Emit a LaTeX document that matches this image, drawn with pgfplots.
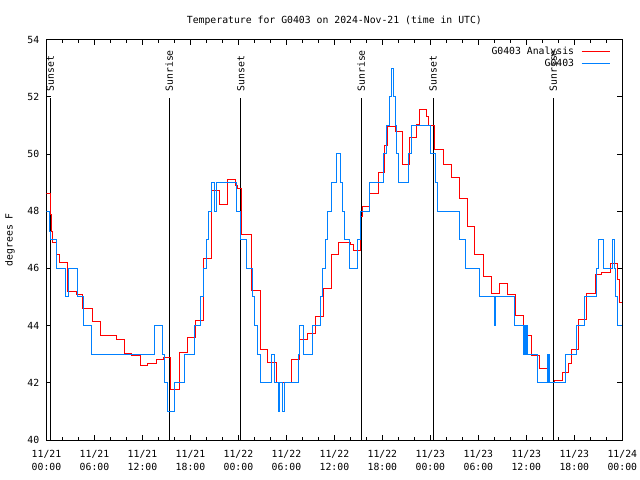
\documentclass[border=0pt]{standalone}
\usepackage{fontspec}
\setmainfont{DejaVu Sans Mono}
\usepackage{pgfplots}
\pgfplotsset{compat=1.18}
\definecolor{anared}{RGB}{255,0,0}
\definecolor{obsblue}{RGB}{0,128,255}
\begin{document}
\begin{tikzpicture}
\useasboundingbox (0,0) rectangle (640bp,480bp);
\begin{axis}[
  at={(46.5bp,40bp)}, anchor=south west,
  scale only axis, width=575.8bp, height=400.4bp,
  xmin=0, xmax=72, ymin=40, ymax=54,
  font=\fontsize{9.8bp}{11bp}\selectfont,
  /pgf/number format/assume math mode=true,
  axis line style={line width=0.8bp},
  every tick/.style={black, line width=0.6bp},
  major tick length=5bp, minor tick length=3bp,
  tick align=inside,
  xtick={0,6,...,72},
  xticklabels={{11/21\\00:00},{11/21\\06:00},{11/21\\12:00},{11/21\\18:00},{11/22\\00:00},{11/22\\06:00},{11/22\\12:00},{11/22\\18:00},{11/23\\00:00},{11/23\\06:00},{11/23\\12:00},{11/23\\18:00},{11/24\\00:00}},
  xticklabel style={align=center, inner sep=0pt, yshift=-10bp, font=\fontsize{9.8bp}{13bp}\selectfont},
  minor x tick num=2,
  ytick={40,42,...,54},
  yticklabel style={inner sep=0pt, xshift=-7bp},
  title={Temperature for G0403 on 2024-Nov-21 (time in UTC)},
  title style={at={(axis description cs:0.5,1)}, anchor=center, yshift=13bp, inner sep=0pt},
  ylabel={degrees F},
  ylabel style={at={(axis description cs:-0.0634,0.5)}, anchor=center, rotate=0, inner sep=0pt},
  legend plot pos=right,
  legend cell align=right,
  legend image code/.code={\draw[#1] (0bp,0bp) -- (28bp,0bp);},
  legend style={at={(1,1)}, anchor=north east, xshift=-12bp, yshift=-6bp, draw=none, fill=none,
    inner sep=0pt, row sep=1.5bp, nodes={inner sep=1bp},
    /tikz/every odd column/.style={column sep=6bp}},
]
% sunrise / sunset markers
\addplot[black, line width=0.8bp, forget plot] coordinates {(0.48,40) (0.48,51.95)};
\addplot[black, line width=0.8bp, forget plot] coordinates {(15.35,40) (15.35,51.95)};
\addplot[black, line width=0.8bp, forget plot] coordinates {(24.3,40) (24.3,51.95)};
\addplot[black, line width=0.8bp, forget plot] coordinates {(39.35,40) (39.35,51.95)};
\addplot[black, line width=0.8bp, forget plot] coordinates {(48.35,40) (48.35,51.95)};
\addplot[black, line width=0.8bp, forget plot] coordinates {(63.35,40) (63.35,51.95)};
\node[rotate=90, anchor=west, inner sep=0pt] at (axis cs:0.48,52.18) {Sunset};
\node[rotate=90, anchor=west, inner sep=0pt] at (axis cs:15.35,52.18) {Sunrise};
\node[rotate=90, anchor=west, inner sep=0pt] at (axis cs:24.3,52.18) {Sunset};
\node[rotate=90, anchor=west, inner sep=0pt] at (axis cs:39.35,52.18) {Sunrise};
\node[rotate=90, anchor=west, inner sep=0pt] at (axis cs:48.35,52.18) {Sunset};
\node[rotate=90, anchor=west, inner sep=0pt] at (axis cs:63.35,52.18) {Sunrise};
% analysis
\addplot[const plot, anared, line width=1bp] table {
0 48.63
0.45 47.9
0.6 47.3
0.75 46.91
1.3 46.5
1.6 46.21
2.65 45.19
3.75 45.08
4.55 44.6
5.8 44.16
6.7 43.67
8.7 43.5
9.7 43.03
10.6 42.95
11.7 42.62
12.65 42.68
13.7 42.83
14.6 42.9
15.5 41.77
16.6 43.05
17.6 43.57
18.6 44.19
19.6 46.35
20.65 48.72
21.6 48.22
22.65 49.11
23.6 48.9
23.9 48.8
24.35 47.2
25.65 45.24
26.7 43.18
27.65 42.72
28.7 42.0
30.65 42.83
31.6 43.5
32.6 43.73
33.6 44.31
34.6 45.3
35.65 46.47
36.5 46.91
38.0 46.85
38.4 46.64
39.3 47.8
39.5 48.16
40.4 48.63
41.5 49.35
42.3 50.3
42.65 50.95
43.7 50.78
44.5 49.64
45.4 50.57
46.3 51.04
46.6 51.56
47.5 51.3
47.8 51.0
48.5 50.14
49.6 49.64
50.6 49.18
51.65 48.45
52.6 47.46
53.5 46.5
54.6 45.71
55.6 45.13
56.6 45.48
57.6 45.07
58.6 44.37
59.6 44.0
59.85 43.64
60.6 42.97
61.65 42.5
62.6 42.0
63.5 42.07
64.5 42.37
65.3 42.68
65.6 43.17
66.5 44.2
67.5 45.13
68.7 45.77
69.4 45.85
70.5 46.18
71.45 45.6
71.65 44.8
72 44.8
};
\addlegendentry{G0403 Analysis}
% observed
\addplot[const plot, obsblue, line width=1bp] table {
0 48
0.35 47.3
0.5 47
1.25 46
2.35 45
2.75 46
3.85 45
4.6 44
5.6 43
13.45 44
14.45 43
14.75 42
15.1 41
15.95 42
17.2 43
18.5 44
19.3 45
19.65 46
19.95 47
20.25 48
20.6 49
20.95 48
21.3 49
23.75 48
24.2 47
25.05 46
25.7 45
26.0 44
26.35 43
26.7 42
28.1 43
28.5 42
28.95 41
29.1 42
29.55 41
29.7 42
31.5 43
31.65 44
32.15 43
33.3 44
34.3 45
34.55 46
34.85 47
35.15 48
35.6 49
36.3 50
36.7 49
37.0 48
37.3 47
37.9 46
38.95 47
39.3 48
40.35 49
42.1 50
42.5 51
42.9 52
43.1 53
43.4 52
43.6 51
43.8 50
44.05 49
45.3 50
45.6 51
48.0 50
48.6 49
48.95 48
51.7 47
52.4 46
54.2 45
56.0 44
56.2 45
58.5 44
59.6 43
59.75 44
59.9 43
60.05 44
60.2 43
61.4 42
62.6 43
62.75 42
62.85 43
62.95 42
64.9 43
66.25 44
67.3 45
68.8 46
69.0 47
69.65 46
70.8 47
71.05 46
71.2 45
71.35 44
72 44
};
\addlegendentry{G0403}
\end{axis}
\end{tikzpicture}
\end{document}
